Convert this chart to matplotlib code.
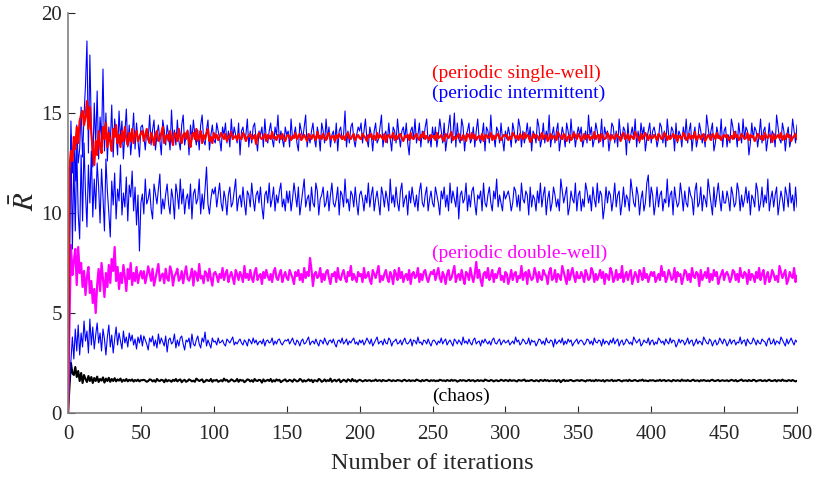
import matplotlib
matplotlib.use("Agg")
import matplotlib.pyplot as plt

plt.rcParams['font.family'] = ['Liberation Serif', 'DejaVu Serif']
plt.rcParams['mathtext.fontset'] = 'stix'

# one value per iteration, 0..500
iterations = list(range(0, 501))

single_well = [0.0,
    12.2,13.1,12.6,13.8,13.2,14.3,13.5,14.6,14.9,15.1, 14.4,14.8,15.6,14.2,15.3,14.0,13.1,12.4,13.6,12.9, 14.1,13.4,13.0,14.3,13.7,14.5,13.3,14.0,13.6,13.1, 14.2,13.8,14.4,13.5,13.9,13.3,14.1,13.6,14.3,13.7, 13.4,14.0,13.6,14.2,13.5,13.9,14.1,13.6,13.8,14.0,
    14.1,13.6,13.9,14.2,13.7,13.5,14.0,13.8,13.4,13.9, 14.1,13.6,13.7,14.0,14.3,13.5,13.8,13.9,13.6,14.1, 13.7,13.4,14.0,13.9,13.6,14.2,13.8,13.5,13.9,14.0, 13.7,14.1,13.6,13.3,13.9,14.0,13.7,14.2,13.6,13.8, 14.1,13.5,13.9,13.7,14.0,14.2,13.6,13.8,13.5,14.0,
    13.75,13.9,13.65,13.8,14.0,13.85,13.7,13.95,13.6,13.75, 13.9,14.05,13.7,13.8,13.85,13.65,13.95,13.75,13.7,14.0, 13.9,13.6,13.8,13.85,13.95,13.7,13.75,13.9,13.45,13.85, 14.0,13.75,13.7,13.8,13.95,13.6,13.9,13.85,13.7,14.05, 13.75,13.8,13.65,13.9,13.85,13.7,13.95,13.75,13.6,13.85,
    13.9,13.8,13.65,13.85,13.75,14.0,13.7,13.85,13.95,13.65, 13.8,13.9,13.75,13.6,13.95,13.85,13.7,13.9,13.8,13.65, 14.05,13.75,13.85,13.7,13.95,13.75,13.65,13.9,14.0,13.7, 13.8,13.85,13.6,13.9,13.75,13.95,13.8,13.7,13.85,13.65, 13.9,14.0,13.75,13.7,13.85,13.95,13.65,13.8,13.9,13.75,
    13.7,13.95,13.85,13.75,13.6,13.9,13.8,13.95,13.7,13.85, 13.65,14.0,13.75,13.9,13.8,13.7,13.95,13.55,13.85,13.9, 13.75,13.8,14.0,13.65,13.85,13.7,13.9,13.95,13.75,13.6, 13.85,13.8,13.9,13.65,14.0,13.75,13.7,13.85,13.95,13.75, 13.65,13.9,13.8,14.05,13.7,13.85,13.75,13.65,13.9,13.8,
    13.85,13.65,14.0,13.75,13.8,13.9,13.7,13.6,13.95,13.85, 13.75,13.9,14.05,13.65,13.8,13.7,13.85,13.95,13.75,13.65, 13.9,13.8,13.6,13.95,13.85,13.7,14.0,13.75,13.9,13.65, 13.8,13.85,13.7,13.95,13.6,13.85,13.9,13.75,13.8,14.0, 13.65,13.85,13.7,13.9,13.95,13.75,13.65,13.8,13.9,13.85,
    13.9,13.65,13.8,13.7,14.0,13.9,13.75,13.85,13.65,13.95, 13.8,13.7,14.0,13.75,13.9,13.85,13.55,13.7,13.95,13.75, 13.9,13.85,13.65,13.8,14.0,13.7,13.85,13.9,13.6,13.75, 13.95,13.7,13.85,13.8,13.65,14.05,13.9,13.75,13.7,13.95, 13.85,13.6,13.8,13.9,13.65,13.75,14.0,13.85,13.7,13.95,
    13.85,13.6,13.75,13.95,13.7,13.85,13.9,13.65,13.8,13.75, 14.05,13.7,13.85,13.9,13.6,13.95,13.8,13.7,13.75,14.0, 13.85,13.65,13.9,13.75,13.7,13.95,13.85,13.8,13.6,13.9, 14.0,13.7,13.75,13.95,13.65,13.85,13.8,13.7,14.05,13.9, 13.75,13.6,13.95,13.7,13.85,14.0,13.8,13.65,13.9,13.75,
    13.75,13.9,13.8,13.65,13.95,13.85,13.7,13.75,14.0,13.9, 13.65,13.85,13.7,13.8,13.95,13.75,13.9,13.6,13.85,13.8, 13.7,14.0,13.9,13.65,13.75,13.95,13.7,13.85,13.75,14.05, 13.65,13.8,13.9,13.7,13.85,13.95,13.6,13.75,13.9,13.8, 13.65,13.95,13.85,13.7,14.0,13.75,13.85,13.65,13.8,13.9,
    13.8,13.9,13.65,13.75,13.85,13.7,14.05,13.8,13.9,13.65, 13.75,13.95,13.85,13.7,13.75,14.0,13.65,13.9,13.8,13.85, 13.6,13.75,13.95,13.9,13.7,13.85,13.65,14.0,13.8,13.75, 13.9,13.85,13.55,13.95,13.7,13.8,13.9,13.75,14.0,13.65, 13.85,13.7,13.95,13.8,13.9,13.6,13.75,13.85,13.95,13.7]

intermittent_top = [0.0,
    9.0,14.6,12.0,13.8,11.6,14.4,12.5,13.2,15.3,12.8, 14.9,16.4,18.6,13.0,17.9,14.2,12.3,15.5,13.4,16.1, 12.7,14.8,13.6,17.2,13.1,15.0,12.6,14.3,13.5,15.4, 12.8,14.7,13.9,12.9,15.1,13.7,14.6,12.7,14.0,15.2, 13.3,14.4,12.9,13.8,15.0,13.2,14.5,13.6,12.8,14.3,
    14.4,13.9,13.15,14.15,13.65,14.9,13.4,14.15,14.65,13.15, 13.9,14.4,13.65,12.9,14.65,14.15,13.4,14.4,13.9,13.15, 15.15,13.65,14.15,13.4,14.65,13.65,13.15,14.4,14.9,13.4, 13.9,14.15,12.9,14.4,13.65,14.65,13.9,13.4,14.15,13.15, 14.4,14.9,13.65,13.4,14.15,14.65,13.15,13.9,14.4,13.65,
    13.5,14.5,14.1,13.7,13.1,14.3,13.9,14.5,13.5,14.1, 13.3,14.7,13.7,14.3,13.9,13.5,14.5,12.9,14.1,14.3, 13.7,13.9,14.7,13.3,14.1,13.5,14.3,14.5,13.7,13.1, 14.1,13.9,14.3,13.3,14.7,13.7,13.5,14.1,14.5,13.7, 13.3,14.3,13.9,14.9,13.5,14.1,13.7,13.3,14.3,13.9,
    14.1,13.3,14.7,13.7,13.9,14.3,13.5,13.1,14.5,14.1, 13.7,14.3,14.9,13.3,13.9,13.5,14.1,14.5,13.7,13.3, 14.3,13.9,13.1,14.5,14.1,13.5,14.7,13.7,14.3,13.3, 13.9,14.1,13.5,14.5,13.1,14.1,14.3,13.7,13.9,15.1, 13.3,14.1,13.5,14.3,14.5,13.7,13.3,13.9,14.3,14.1,
    14.5,13.5,14.1,14.7,13.7,13.3,14.3,13.9,13.1,14.1, 14.5,13.5,13.7,14.3,14.9,13.3,13.9,14.1,13.5,14.5, 13.7,13.1,14.3,14.1,13.5,14.7,13.9,13.3,14.1,14.3, 13.7,14.5,13.5,12.9,14.1,14.3,13.7,14.7,13.5,13.9, 14.5,13.3,14.1,13.7,14.3,14.7,13.5,13.9,13.3,14.3,
    13.7,14.3,13.3,13.9,14.7,14.1,13.5,14.5,13.1,13.7, 14.3,14.9,13.5,13.9,15.0,13.3,14.5,13.7,13.5,14.7, 14.3,13.1,13.9,14.1,14.5,13.5,13.7,14.3,13.3,14.1, 14.7,13.7,13.5,13.9,14.5,13.1,14.3,14.1,13.5,14.9, 13.7,13.9,13.3,14.3,14.1,13.5,14.5,13.7,13.1,14.1,
    13.7,14.3,13.9,13.3,14.5,14.1,13.5,13.7,14.7,14.3, 13.3,14.1,13.5,13.9,14.5,13.7,14.3,13.1,14.1,13.9, 13.5,14.7,14.3,13.3,13.7,14.5,13.5,14.1,13.7,14.9, 13.3,13.9,14.3,13.5,14.1,14.5,13.1,13.7,14.3,13.9, 13.3,14.5,14.1,13.5,14.7,13.7,14.1,13.3,13.9,14.3,
    13.9,14.3,13.3,13.7,14.1,13.5,14.9,13.9,14.3,13.3, 13.7,14.5,14.1,13.5,13.7,14.7,13.3,14.3,13.9,14.1, 13.1,13.7,14.5,14.3,13.5,14.1,13.3,14.7,13.9,13.7, 14.3,14.1,12.9,14.5,13.5,13.9,14.3,13.7,14.7,13.3, 14.1,13.5,14.5,13.9,14.3,13.1,13.7,14.1,14.5,13.5,
    14.1,14.3,13.9,13.3,13.7,14.5,14.3,13.5,14.1,13.3, 14.7,13.9,13.7,14.3,14.1,13.1,14.5,13.5,14.1,13.9, 13.3,14.3,13.7,14.7,13.5,14.1,14.5,13.1,13.9,14.3, 13.3,13.7,14.5,14.1,13.5,13.9,13.3,14.9,14.3,13.7, 14.1,14.5,13.1,13.5,14.3,13.9,13.7,14.7,13.3,14.1,
    14.3,13.3,13.9,13.5,14.7,14.3,13.7,14.1,13.3,14.5, 13.9,13.5,14.7,13.7,14.3,14.1,12.9,13.5,14.5,13.7, 14.3,14.1,13.3,13.9,14.7,13.5,14.1,14.3,13.1,13.7, 14.5,13.5,14.1,13.9,13.3,14.9,14.3,13.7,13.5,14.5, 14.1,13.1,13.9,14.3,13.3,13.7,14.7,14.1,13.5,14.4]

intermittent_mid = [0.0,
    7.0,13.9,8.2,12.6,9.1,13.2,10.0,8.7,12.9,9.6, 13.5,11.0,9.3,12.4,10.5,13.1,9.8,11.7,10.2,12.5, 11.3,9.5,12.2,10.8,9.1,12.7,11.1,10.0,8.8,11.6, 10.4,12.0,9.7,11.2,10.6,12.4,9.9,11.0,10.3,11.8, 9.6,11.4,10.8,12.1,10.1,11.3,9.4,10.9,8.1,10.5,
    10.95,9.95,11.7,10.45,10.7,11.2,10.2,9.7,11.45,10.95, 10.45,11.2,11.95,9.95,10.7,10.2,10.95,11.45,10.45,9.95, 11.2,10.7,9.7,11.45,10.95,10.2,11.7,10.45,11.2,9.95, 10.7,10.95,10.2,11.45,9.7,10.95,11.2,10.45,10.7,11.7, 9.95,10.95,10.2,11.2,12.3,10.45,9.95,10.7,11.2,10.95,
    11.3,10.3,10.9,11.5,10.5,10.1,11.1,10.7,9.9,10.9, 11.3,10.3,10.5,11.1,11.7,10.1,10.7,10.9,10.3,11.3, 10.5,9.9,11.1,10.9,10.3,11.5,10.7,10.1,10.9,11.1, 10.5,11.3,10.3,9.7,10.9,11.1,10.5,11.5,10.3,10.7, 11.3,10.1,10.9,10.5,11.1,11.5,10.3,10.7,10.1,11.1,
    10.5,11.1,10.1,10.7,11.5,10.9,10.3,11.3,9.9,10.5, 11.1,11.7,10.3,10.7,10.9,10.1,11.3,10.5,10.3,11.5, 11.1,9.9,10.7,10.9,11.3,10.3,10.5,11.1,10.1,10.9, 11.5,10.5,10.3,10.7,11.3,9.9,11.1,10.9,10.3,11.7, 10.5,10.7,10.1,11.1,10.9,10.3,11.3,10.5,9.9,10.9,
    11.1,10.7,10.1,10.9,10.5,11.5,10.3,10.9,11.3,10.1, 10.7,11.1,10.5,9.9,11.3,10.9,10.3,11.1,10.7,10.1, 11.7,10.5,10.9,10.3,11.3,10.5,10.1,11.1,11.5,10.3, 10.7,10.9,9.9,11.1,10.5,11.3,10.7,10.3,10.9,10.1, 11.1,11.5,10.5,10.3,10.9,11.3,10.1,10.7,11.1,10.5,
    10.3,11.3,10.9,10.5,9.9,11.1,10.7,11.3,10.3,10.9, 10.1,11.5,10.5,11.1,10.7,10.3,11.3,9.7,10.9,11.1, 10.5,10.7,11.5,10.1,10.9,10.3,11.1,11.3,10.5,9.9, 10.9,10.7,11.1,10.1,11.5,10.5,10.3,10.9,11.3,10.5, 10.1,11.1,10.7,11.7,10.3,10.9,10.5,10.1,11.1,10.7,
    10.9,11.1,10.7,10.1,10.5,11.3,11.1,10.3,10.9,10.1, 11.5,10.7,10.5,11.1,10.9,9.9,11.3,10.3,10.9,10.7, 10.1,11.1,10.5,11.5,10.3,10.9,11.3,9.9,10.7,11.1, 10.1,10.5,11.3,10.9,10.3,10.7,10.1,11.7,11.1,10.5, 10.9,11.3,9.9,10.3,11.1,10.7,10.5,11.5,10.1,10.9,
    11.1,10.1,10.7,10.3,11.5,11.1,10.5,10.9,10.1,11.3, 10.7,10.3,11.5,10.5,11.1,10.9,9.7,10.3,11.3,10.5, 11.1,10.9,10.1,10.7,11.5,10.3,10.9,11.1,9.9,10.5, 11.3,10.3,10.9,10.7,10.1,11.7,11.1,10.5,10.3,11.3, 10.9,9.9,10.7,11.1,10.1,10.5,11.5,11.9,10.3,11.3,
    10.9,9.9,10.5,11.3,10.3,10.9,11.1,10.1,10.7,10.5, 11.7,10.3,10.9,11.1,9.9,11.3,10.7,10.3,10.5,11.5, 10.9,10.1,11.1,10.5,10.3,11.3,10.9,10.7,9.9,11.1, 11.5,10.3,10.5,11.3,10.1,10.9,10.7,10.3,11.7,11.1, 10.5,9.9,11.3,10.3,10.9,11.5,10.7,10.1,11.1,10.5,
    10.5,11.1,10.7,10.1,11.3,10.9,10.3,10.5,11.5,11.1, 10.1,10.9,10.3,10.7,11.3,10.5,11.1,9.9,10.9,10.7, 10.3,11.5,11.1,10.1,10.5,11.3,10.3,10.9,10.5,11.7, 10.1,10.7,11.1,10.3,10.9,11.3,9.9,10.5,11.1,10.7, 10.1,11.3,10.9,10.3,11.5,10.5,10.9,10.1,11.3,10.3]

double_well = [0.0,
    4.5,8.4,6.9,7.6,8.2,6.4,8.3,7.0,7.5,6.3, 7.1,5.9,6.8,7.3,6.0,6.6,5.5,6.2,5.0,6.4, 7.2,6.1,7.5,6.7,5.8,7.0,6.3,7.4,6.5,7.7, 7.1,8.3,6.6,7.3,6.2,7.0,6.5,7.4,6.8,6.1, 7.2,6.7,7.5,6.4,7.0,6.6,7.3,6.5,6.9,7.1,
    6.73,7.09,6.49,6.85,7.33,6.97,6.61,7.21,6.37,6.73, 7.09,7.45,6.61,6.85,6.97,6.49,7.21,6.73,6.61,7.33, 7.09,6.37,6.85,6.97,7.21,6.61,6.73,7.09,6.49,6.97, 7.33,6.73,6.61,6.85,7.21,6.37,7.09,6.97,6.61,7.45, 6.73,6.85,6.49,7.09,6.97,6.61,7.21,6.73,6.37,6.97,
    7.05,6.85,6.55,6.95,6.75,7.25,6.65,6.95,7.15,6.55, 6.85,7.05,6.75,6.45,7.15,6.95,6.65,7.05,6.85,6.55, 7.35,6.75,6.95,6.65,7.15,6.75,6.55,7.05,7.25,6.65, 6.85,6.95,6.45,7.05,6.75,7.15,6.85,6.65,6.95,6.55, 7.05,7.25,6.75,6.65,6.95,7.15,6.55,6.85,7.05,6.75,
    6.65,7.15,6.95,6.75,6.45,7.05,6.85,7.15,6.65,6.95, 6.55,7.25,6.75,7.05,6.85,7.75,7.15,6.35,6.95,7.05, 6.75,6.85,7.25,6.55,6.95,6.65,7.05,7.15,6.75,6.45, 6.95,6.85,7.05,6.55,7.25,6.75,6.65,6.95,7.15,6.75, 6.55,7.05,6.85,7.35,6.65,6.95,6.75,6.55,7.05,6.85,
    6.95,6.55,7.25,6.75,6.85,7.05,6.65,6.45,7.15,6.95, 6.75,7.05,7.35,6.55,6.85,6.65,6.95,7.15,6.75,6.55, 7.05,6.85,6.45,7.15,6.95,6.65,7.25,6.75,7.05,6.55, 6.85,6.95,6.65,7.15,6.45,6.95,7.05,6.75,6.85,7.25, 6.55,6.95,6.65,7.05,7.15,6.75,6.55,6.85,7.05,6.95,
    7.15,6.65,6.95,7.25,6.75,6.55,7.05,6.85,6.45,6.95, 7.15,6.65,6.75,7.05,7.35,6.55,6.85,6.95,6.65,7.15, 6.75,6.45,7.05,6.95,6.65,7.25,6.85,6.55,6.95,7.55, 6.75,7.15,6.65,6.35,6.95,7.05,6.75,7.25,6.65,6.85, 7.15,6.55,6.95,6.75,7.05,7.25,6.65,6.85,6.55,7.05,
    6.95,6.45,6.75,7.15,6.65,6.95,7.05,6.55,6.85,6.75, 7.35,6.65,6.95,7.05,6.45,7.15,6.85,6.65,6.75,7.25, 6.95,6.55,7.05,6.75,6.65,7.15,6.95,6.85,6.45,7.05, 7.25,6.65,6.75,7.15,6.55,6.95,6.85,6.65,7.35,7.05, 6.75,6.45,7.15,6.65,6.95,7.25,6.85,6.55,7.05,6.75,
    6.75,7.05,6.85,6.55,7.15,6.95,6.65,6.75,7.25,7.05, 6.55,6.95,6.65,6.85,7.15,6.75,7.05,6.45,6.95,6.85, 6.65,7.25,7.05,6.55,6.75,7.15,6.65,6.95,6.75,7.35, 6.55,6.85,7.05,6.65,6.95,7.15,6.45,6.75,7.05,6.85, 6.55,7.15,6.95,6.65,7.25,6.75,6.95,6.55,6.85,7.05,
    6.85,7.05,6.55,6.75,6.95,6.65,7.35,6.85,7.05,6.55, 6.75,7.15,6.95,6.65,6.75,7.25,6.55,7.05,6.85,6.95, 6.45,6.75,7.15,7.05,6.65,6.95,6.55,7.25,6.85,6.75, 7.05,6.95,6.35,7.15,6.65,6.85,7.05,6.75,7.25,6.55, 6.95,6.65,7.15,6.85,7.05,6.45,6.75,6.95,7.15,6.65,
    6.95,7.05,6.85,6.55,6.75,7.15,7.05,6.65,6.95,6.55, 7.25,6.85,6.75,7.05,6.95,6.45,7.15,6.65,6.95,6.85, 6.55,7.05,6.75,7.25,6.65,6.95,7.15,6.45,6.85,7.05, 6.55,6.75,7.15,6.95,6.65,6.85,6.55,7.35,7.05,6.75, 6.95,7.15,6.45,6.65,7.05,6.85,6.75,7.25,6.55,6.85]

intermittent_low = [0.0,
    1.5,2.6,3.8,2.7,4.2,3.1,4.4,2.9,4.0,3.3, 4.6,3.6,4.1,3.0,4.7,3.4,4.3,3.2,3.9,4.5, 3.5,4.0,3.1,4.2,3.7,2.9,3.8,4.4,3.3,3.9, 3.0,3.7,4.3,3.4,4.0,3.6,3.2,4.1,3.5,3.8, 3.3,4.0,3.6,3.9,3.4,3.7,3.2,3.8,3.5,3.9,
    3.35,3.85,3.65,3.45,3.15,3.75,3.55,3.85,3.35,3.65, 3.25,3.95,3.45,3.75,3.55,3.35,3.85,3.05,3.65,3.75, 3.45,3.55,3.95,3.25,3.65,3.35,3.75,3.85,3.45,3.15, 3.65,3.55,3.75,3.25,3.95,3.45,3.35,3.65,3.85,3.45, 3.25,3.75,3.55,4.05,3.35,3.65,3.45,3.25,3.75,3.55,
    3.6,3.4,3.75,3.5,3.55,3.65,3.45,3.35,3.7,3.6, 3.5,3.65,3.8,3.4,3.55,3.45,3.6,3.7,3.5,3.4, 3.65,3.55,3.35,3.7,3.6,3.45,3.75,3.5,3.65,3.4, 3.55,3.6,3.45,3.7,3.35,3.6,3.65,3.5,3.55,3.75, 3.4,3.6,3.45,3.65,3.7,3.5,3.4,3.55,3.65,3.6,
    3.7,3.45,3.6,3.75,3.5,3.4,3.65,3.55,3.35,3.6, 3.7,3.45,3.5,3.65,3.8,3.4,3.55,3.6,3.45,3.7, 3.5,3.35,3.65,3.6,3.45,3.75,3.55,3.4,3.6,3.65, 3.5,3.7,3.45,3.3,3.6,3.65,3.5,3.75,3.45,3.55, 3.7,3.4,3.6,3.5,3.65,3.75,3.45,3.55,3.4,3.65,
    3.5,3.65,3.4,3.55,3.75,3.6,3.45,3.7,3.35,3.5, 3.65,3.8,3.45,3.55,3.6,3.4,3.7,3.5,3.45,3.75, 3.65,3.35,3.55,3.6,3.7,3.45,3.5,3.65,3.4,3.6, 3.75,3.5,3.45,3.55,3.7,3.35,3.65,3.6,3.45,3.8, 3.5,3.55,3.4,3.65,3.6,3.45,3.7,3.5,3.35,3.6,
    3.65,3.55,3.4,3.6,3.5,3.75,3.45,3.6,3.7,3.4, 3.55,3.65,3.5,3.35,3.7,3.6,3.45,3.65,3.55,3.4, 3.8,3.5,3.6,3.45,3.7,3.5,3.4,3.65,3.75,3.45, 3.55,3.6,3.35,3.65,3.5,3.7,3.55,3.45,3.6,3.4, 3.65,3.75,3.5,3.45,3.6,3.7,3.4,3.55,3.65,3.5,
    3.55,3.65,3.4,3.5,3.6,3.45,3.8,3.55,3.65,3.4, 3.5,3.7,3.6,3.45,3.5,3.75,3.4,3.65,3.55,3.6, 3.35,3.5,3.7,3.65,3.45,3.6,3.4,3.75,3.55,3.5, 3.65,3.6,3.3,3.7,3.45,3.55,3.65,3.5,3.75,3.4, 3.6,3.45,3.7,3.55,3.65,3.35,3.5,3.6,3.7,3.45,
    3.6,3.65,3.55,3.4,3.5,3.7,3.65,3.45,3.6,3.4, 3.75,3.55,3.5,3.65,3.6,3.35,3.7,3.45,3.6,3.55, 3.4,3.65,3.5,3.75,3.45,3.6,3.7,3.35,3.55,3.65, 3.4,3.5,3.7,3.6,3.45,3.55,3.4,3.8,3.65,3.5, 3.6,3.7,3.35,3.45,3.65,3.55,3.5,3.75,3.4,3.6,
    3.65,3.4,3.55,3.45,3.75,3.65,3.5,3.6,3.4,3.7, 3.55,3.45,3.75,3.5,3.65,3.6,3.3,3.45,3.7,3.5, 3.65,3.6,3.4,3.55,3.75,3.45,3.6,3.65,3.35,3.5, 3.7,3.45,3.6,3.55,3.4,3.8,3.65,3.5,3.45,3.7, 3.6,3.35,3.55,3.65,3.4,3.5,3.75,3.6,3.45,3.7,
    3.6,3.35,3.5,3.7,3.45,3.6,3.65,3.4,3.55,3.5, 3.8,3.45,3.6,3.65,3.35,3.7,3.55,3.45,3.5,3.75, 3.6,3.4,3.65,3.5,3.45,3.7,3.6,3.55,3.35,3.65, 3.75,3.45,3.5,3.7,3.4,3.6,3.55,3.45,3.8,3.65, 3.5,3.35,3.7,3.45,3.6,3.75,3.55,3.4,3.65,3.55]

chaos = [0.0,
    1.3,2.5,2.0,1.9,2.3,1.8,2.1,1.6,2.0,1.5, 1.9,1.7,1.55,1.85,1.6,1.8,1.5,1.75,1.6,1.82, 1.55,1.7,1.62,1.78,1.52,1.72,1.6,1.76,1.56,1.7, 1.6,1.74,1.58,1.68,1.62,1.72,1.56,1.66,1.6,1.7, 1.58,1.66,1.61,1.68,1.57,1.65,1.6,1.67,1.58,1.64,
    1.64,1.66,1.62,1.56,1.6,1.68,1.66,1.58,1.64,1.56, 1.7,1.62,1.6,1.66,1.64,1.54,1.68,1.58,1.64,1.62, 1.56,1.66,1.6,1.7,1.58,1.64,1.68,1.54,1.62,1.66, 1.56,1.6,1.68,1.64,1.58,1.62,1.56,1.72,1.66,1.6, 1.64,1.68,1.54,1.58,1.66,1.62,1.6,1.7,1.56,1.64,
    1.62,1.66,1.56,1.6,1.64,1.58,1.72,1.62,1.66,1.56, 1.6,1.68,1.64,1.58,1.6,1.7,1.56,1.66,1.62,1.64, 1.54,1.6,1.68,1.66,1.58,1.64,1.56,1.7,1.62,1.6, 1.66,1.64,1.52,1.68,1.58,1.62,1.66,1.6,1.7,1.56, 1.64,1.58,1.68,1.62,1.66,1.54,1.6,1.64,1.68,1.58,
    1.6,1.66,1.62,1.56,1.68,1.64,1.58,1.6,1.7,1.66, 1.56,1.64,1.58,1.62,1.68,1.6,1.66,1.54,1.64,1.62, 1.58,1.7,1.66,1.56,1.6,1.68,1.58,1.64,1.6,1.72, 1.56,1.62,1.66,1.58,1.64,1.68,1.54,1.6,1.66,1.62, 1.56,1.68,1.64,1.58,1.7,1.6,1.64,1.56,1.62,1.66,
    1.63,1.58,1.61,1.65,1.6,1.63,1.64,1.59,1.62,1.61, 1.67,1.6,1.63,1.64,1.58,1.65,1.62,1.6,1.61,1.66, 1.63,1.59,1.64,1.61,1.6,1.65,1.63,1.62,1.58,1.64, 1.66,1.6,1.61,1.65,1.59,1.63,1.62,1.6,1.67,1.64, 1.61,1.58,1.65,1.6,1.63,1.66,1.62,1.59,1.64,1.61,
    1.64,1.59,1.62,1.6,1.66,1.64,1.61,1.63,1.59,1.65, 1.62,1.6,1.66,1.61,1.64,1.63,1.57,1.6,1.65,1.61, 1.64,1.63,1.59,1.62,1.66,1.6,1.63,1.64,1.58,1.61, 1.65,1.6,1.63,1.62,1.59,1.67,1.64,1.61,1.6,1.65, 1.63,1.58,1.62,1.64,1.59,1.61,1.66,1.63,1.6,1.65,
    1.63,1.59,1.66,1.61,1.62,1.64,1.6,1.58,1.65,1.63, 1.61,1.64,1.67,1.59,1.62,1.6,1.63,1.65,1.61,1.59, 1.64,1.62,1.58,1.65,1.63,1.6,1.66,1.61,1.64,1.59, 1.62,1.63,1.6,1.65,1.58,1.63,1.64,1.54,1.62,1.66, 1.59,1.63,1.6,1.64,1.65,1.61,1.59,1.62,1.64,1.63,
    1.6,1.65,1.63,1.61,1.58,1.64,1.62,1.65,1.6,1.63, 1.59,1.66,1.61,1.64,1.62,1.6,1.65,1.57,1.63,1.64, 1.61,1.62,1.66,1.59,1.63,1.6,1.64,1.65,1.61,1.58, 1.63,1.62,1.64,1.59,1.66,1.61,1.6,1.63,1.65,1.61, 1.59,1.64,1.62,1.67,1.6,1.63,1.61,1.59,1.64,1.62,
    1.64,1.62,1.59,1.63,1.61,1.66,1.6,1.63,1.65,1.59, 1.62,1.64,1.61,1.58,1.65,1.63,1.6,1.64,1.62,1.59, 1.67,1.61,1.63,1.6,1.65,1.61,1.59,1.64,1.66,1.6, 1.62,1.63,1.58,1.64,1.61,1.65,1.62,1.6,1.63,1.59, 1.64,1.66,1.61,1.6,1.63,1.65,1.59,1.62,1.64,1.61,
    1.61,1.64,1.59,1.62,1.66,1.63,1.6,1.65,1.58,1.61, 1.64,1.67,1.6,1.62,1.63,1.59,1.65,1.61,1.6,1.66, 1.64,1.58,1.62,1.63,1.65,1.6,1.61,1.64,1.59,1.63, 1.66,1.61,1.6,1.62,1.65,1.58,1.64,1.63,1.6,1.67, 1.61,1.62,1.59,1.64,1.63,1.6,1.65,1.61,1.58,1.61]

labels = ["(periodic single-well)", "(periodic intermittent)", "(periodic double-well)", "(chaos)"]
label_pos = [(250, 17.0), (250, 16.0), (250, 8.0), (250, 0.85)]
label_colors = ["#ff0000", "#0000ff", "#ff00ff", "#000000"]

x_ticks = list(range(0, 501, 50))
y_ticks = [0, 5, 10, 15, 20]

for name, s in [("single_well", single_well), ("intermittent_top", intermittent_top),
                ("intermittent_mid", intermittent_mid), ("double_well", double_well),
                ("intermittent_low", intermittent_low), ("chaos", chaos)]:
    assert len(s) == len(iterations), (name, len(s))

fig = plt.figure(figsize=(8.15, 4.79), dpi=100)
ax = fig.add_axes([68/815, 1-413/479, (797-68)/815, (413-13)/479])

ax.plot(iterations, chaos, color='black', lw=1.5)
ax.plot(iterations, intermittent_low, color='#0000ff', lw=0.8)
ax.plot(iterations, double_well, color='#ff00ff', lw=1.6)
ax.plot(iterations, intermittent_mid, color='#0000ff', lw=0.8)
ax.plot(iterations, intermittent_top, color='#0000ff', lw=0.8)
ax.plot(iterations, single_well, color='#ff0000', lw=1.6)

for t, (px, py), c in zip(labels, label_pos, label_colors):
    ax.text(px, py, t, color=c, fontsize=14, ha='left', va='center')

ax.set_xlim(0, 500)
ax.set_ylim(0, 20)
ax.set_xticks(x_ticks)
ax.set_yticks(y_ticks)
ax.tick_params(direction='in', length=5, width=0.8, labelsize=15, colors='#262626')
ax.tick_params(axis='x', pad=8.5)
ax.tick_params(axis='y', pad=4.5)
for side in ['top', 'right']:
    ax.spines[side].set_visible(False)
for side in ['left', 'bottom']:
    ax.spines[side].set_color('#808080')
    ax.spines[side].set_linewidth(1.2)
ax.set_xlabel('Number of iterations', fontsize=17.5, color='#262626')
ax.xaxis.set_label_coords(0.5, -0.10)
ax.set_ylabel(r'$\bar{R}$', fontsize=21, color='#262626')
ax.yaxis.set_label_coords(-0.038, 0.53)

fig.savefig('out.png', dpi=100)
